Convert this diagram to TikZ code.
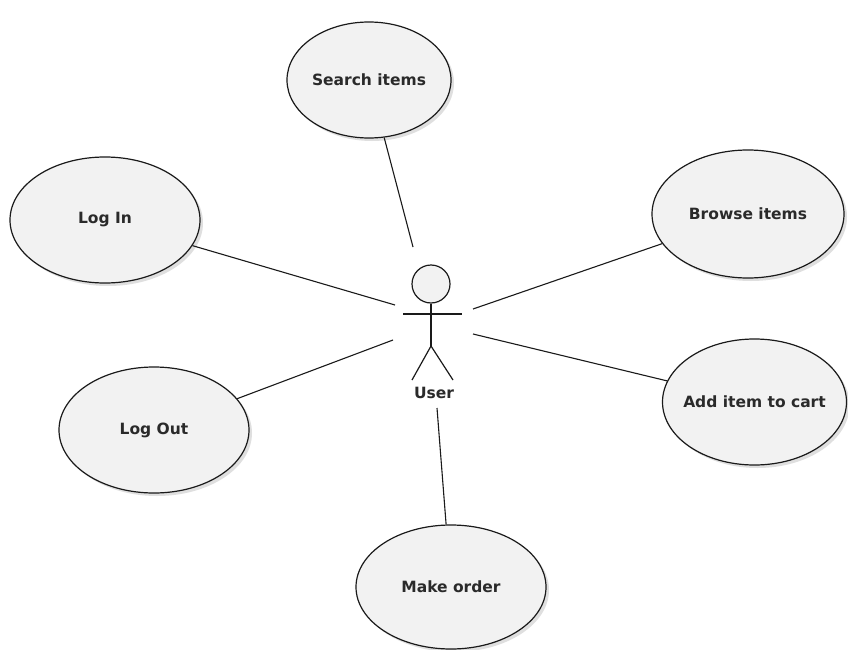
\documentclass[tikz,border=0pt]{standalone}
\usepackage{fontspec}
\setmainfont{DejaVu Sans}
\usetikzlibrary{shapes.geometric,shadows}
\definecolor{ucfill}{HTML}{F2F2F2}
\definecolor{ucline}{HTML}{1A1A1A}
\definecolor{uctext}{HTML}{2A2A2A}
\newcommand{\uclabel}[1]{\makebox[0pt]{#1}}
\tikzset{
  usecase/.style={ellipse, draw=ucline, line width=1.2pt, fill=ucfill, inner sep=0pt,
    font=\bfseries\fontsize{15.5}{17}\selectfont, text=uctext,
    drop shadow={shadow xshift=3pt, shadow yshift=-3pt, opacity=0.25, fill=gray}},
  assoc/.style={draw=ucline, line width=1.1pt},
  actorline/.style={draw=ucline, line width=1.2pt},
}
\begin{document}
\begin{tikzpicture}[x=1pt,y=-1pt]
\useasboundingbox[fill=white] (0,0) rectangle (848,650);
% use cases
\node[usecase, minimum width=164pt, minimum height=116pt] (search) at (369,80) {\uclabel{Search items}};
\node[usecase, minimum width=190pt, minimum height=126pt] (login) at (105,220) {\uclabel{Log In}};
\node[usecase, minimum width=190pt, minimum height=126pt] (logout) at (154,430) {\uclabel{Log Out}};
\node[usecase, minimum width=192pt, minimum height=128pt] (browse) at (748,214) {\uclabel{Browse items}};
\node[usecase, minimum width=184pt, minimum height=126pt] (cart) at (754.5,402) {\uclabel{Add item to cart}};
\node[usecase, minimum width=190pt, minimum height=124pt] (order) at (451,587) {\uclabel{Make order}};
% actor
\node[circle, draw=ucline, line width=1.2pt, fill=ucfill, minimum size=38pt, inner sep=0pt] (head) at (431,284) {};
\coordinate (armL) at (403,314);
\coordinate (armR) at (462,314);
\coordinate (hip) at (431,346);
\coordinate (footL) at (412,380);
\coordinate (footR) at (453,380);
\draw[actorline] (armL) -- (armR);
\draw[actorline] (head.south) -- (hip);
\draw[actorline] (footL) -- (hip) -- (footR);
\node[font=\bfseries\fontsize{15.5}{17}\selectfont, text=uctext] (userlabel) at (434,393) {User};
% association ends at the actor
\coordinate (eSearch) at (413,247);
\coordinate (eLogin) at (395,305);
\coordinate (eLogout) at (393,340);
\coordinate (eBrowse) at (473,309);
\coordinate (eCart) at (473,334);
\coordinate (eOrder) at (437,408);
% associations
\draw[assoc] (search) -- (eSearch);
\draw[assoc] (login) -- (eLogin);
\draw[assoc] (logout) -- (eLogout);
\draw[assoc] (browse) -- (eBrowse);
\draw[assoc] (cart) -- (eCart);
\draw[assoc] (order) -- (eOrder);
\end{tikzpicture}
\end{document}
